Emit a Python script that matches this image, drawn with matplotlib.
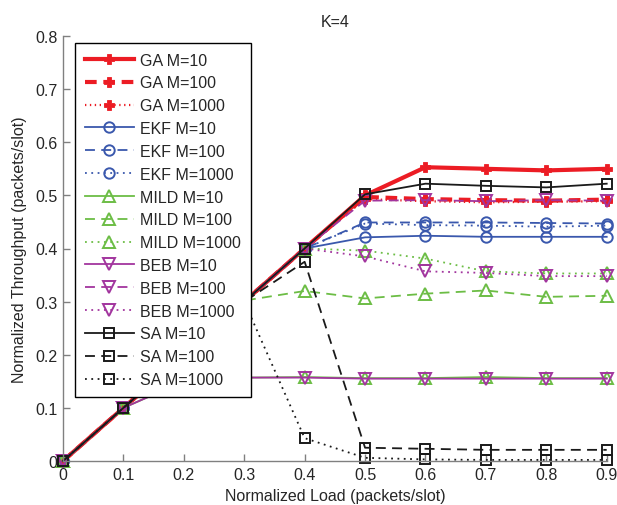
import matplotlib
matplotlib.use("Agg")
import matplotlib.pyplot as plt

plt.rcParams['font.family'] = ['Liberation Sans', 'DejaVu Sans']

load = [0, 0.1, 0.2, 0.3, 0.4, 0.5, 0.6, 0.7, 0.8, 0.9]

ga_10 = [0, 0.1, 0.2, 0.3, 0.4, 0.500, 0.553, 0.550, 0.547, 0.550]
ga_100 = [0, 0.1, 0.2, 0.3, 0.4, 0.497, 0.493, 0.491, 0.490, 0.492]
ga_1000 = [0, 0.1, 0.2, 0.3, 0.4, 0.493, 0.489, 0.487, 0.488, 0.489]
ekf_10 = [0, 0.1, 0.2, 0.3, 0.4, 0.421, 0.424, 0.422, 0.422, 0.422]
ekf_100 = [0, 0.1, 0.2, 0.3, 0.4, 0.449, 0.449, 0.449, 0.448, 0.447]
ekf_1000 = [0, 0.1, 0.2, 0.3, 0.4, 0.447, 0.444, 0.443, 0.441, 0.443]
mild_10 = [0, 0.1, 0.15, 0.157, 0.158, 0.156, 0.156, 0.158, 0.156, 0.156]
mild_100 = [0, 0.1, 0.2, 0.302, 0.320, 0.306, 0.315, 0.321, 0.309, 0.311]
mild_1000 = [0, 0.1, 0.2, 0.3, 0.4, 0.396, 0.381, 0.357, 0.353, 0.353]
beb_10 = [0, 0.1, 0.15, 0.157, 0.157, 0.155, 0.155, 0.155, 0.155, 0.155]
beb_100 = [0, 0.1, 0.2, 0.3, 0.4, 0.490, 0.491, 0.489, 0.491, 0.490]
beb_1000 = [0, 0.1, 0.2, 0.3, 0.4, 0.385, 0.357, 0.354, 0.348, 0.348]
sa_10 = [0, 0.1, 0.2, 0.3, 0.4, 0.502, 0.522, 0.518, 0.515, 0.522]
sa_100 = [0, 0.1, 0.2, 0.3, 0.375, 0.025, 0.023, 0.021, 0.021, 0.021]
sa_1000 = [0, 0.1, 0.2, 0.3, 0.043, 0.006, 0.003, 0.002, 0.002, 0.002]

RED = '#ec1c24'
BLUE = '#3a58ad'
GREEN = '#6cbd45'
PURPLE = '#a2359e'
BLACK = '#1a1a1a'

DASH = (0, (5.5, 3.5))
DOT = (0, (1, 2.5))

series = [
    ("GA M=10", ga_10, RED, '-', 'P', 3.0, True),
    ("GA M=100", ga_100, RED, (0, (2.8, 1.6)), 'P', 3.0, True),
    ("GA M=1000", ga_1000, RED, (0, (0.6, 1.6)), 'P', 1.6, True),
    ("EKF M=10", ekf_10, BLUE, '-', 'o', 1.3, False),
    ("EKF M=100", ekf_100, BLUE, DASH, 'o', 1.3, False),
    ("EKF M=1000", ekf_1000, BLUE, DOT, 'o', 1.3, False),
    ("MILD M=10", mild_10, GREEN, '-', '^', 1.3, False),
    ("MILD M=100", mild_100, GREEN, DASH, '^', 1.3, False),
    ("MILD M=1000", mild_1000, GREEN, DOT, '^', 1.3, False),
    ("BEB M=10", beb_10, PURPLE, '-', 'v', 1.3, False),
    ("BEB M=100", beb_100, PURPLE, DASH, 'v', 1.3, False),
    ("BEB M=1000", beb_1000, PURPLE, DOT, 'v', 1.3, False),
    ("SA M=10", sa_10, BLACK, '-', 's', 1.3, False),
    ("SA M=100", sa_100, BLACK, DASH, 's', 1.3, False),
    ("SA M=1000", sa_1000, BLACK, DOT, 's', 1.3, False),
]

fig = plt.figure(figsize=(6.17, 5.06), dpi=100)
ax = fig.add_axes([63 / 617, 1 - 462 / 506, (606.7 - 63) / 617, 425 / 506])

for label, vals, color, ls, mk, lw, filled in series:
    ms = 6.5 if mk == 'P' else (8.5 if mk in ('^', 'v') else 7.5)
    ax.plot(load, vals, color=color, linestyle=ls, linewidth=lw, marker=mk,
            markersize=ms, markerfacecolor=color if filled else 'none',
            markeredgecolor=color, markeredgewidth=1.4 if not filled else 0.6,
            label=label, clip_on=False)

ax.set_xlim(0, 0.9)
ax.set_ylim(0, 0.8)
ax.set_xticks(load)
ax.set_xticklabels(['0', '0.1', '0.2', '0.3', '0.4', '0.5', '0.6', '0.7', '0.8', '0.9'])
ax.set_yticks([0, 0.1, 0.2, 0.3, 0.4, 0.5, 0.6, 0.7, 0.8])
ax.set_yticklabels(['0', '0.1', '0.2', '0.3', '0.4', '0.5', '0.6', '0.7', '0.8'])

for s in ['top', 'right']:
    ax.spines[s].set_visible(False)
for s in ['left', 'bottom']:
    ax.spines[s].set_color('#808080')
    ax.spines[s].set_linewidth(1.0)
ax.tick_params(direction='in', length=5, width=1.0, color='#808080',
               labelsize=11.5, labelcolor='#262626', pad=4)

ax.set_xlabel('Normalized Load (packets/slot)', fontsize=11.5, color='#262626', labelpad=5)
ax.set_ylabel('Normalized Throughput (packets/slot)', fontsize=11.5, color='#262626', labelpad=6)
ax.set_title('K=4', fontsize=11.5, color='#262626', pad=7)

leg = ax.legend(loc='upper left', bbox_to_anchor=(75 / 617, 1 - 44 / 506),
                bbox_transform=fig.transFigure, fontsize=11.5, frameon=True,
                fancybox=False, framealpha=1.0, handlelength=3.1, handletextpad=0.4,
                borderpad=0.6, labelspacing=0.49, borderaxespad=0)
leg.get_frame().set_edgecolor('black')
leg.get_frame().set_linewidth(1.0)
for t in leg.get_texts():
    t.set_color('#262626')

fig.savefig('out.png', dpi=100)
